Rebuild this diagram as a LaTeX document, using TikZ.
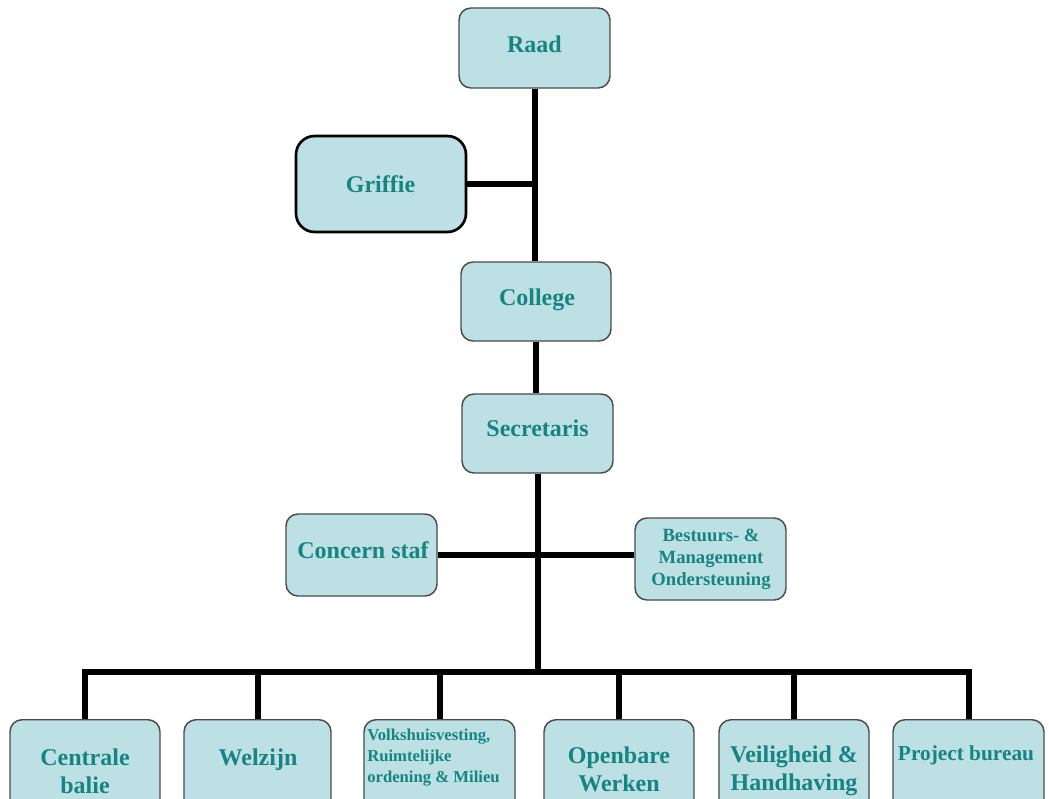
\documentclass[tikz,border=0pt]{standalone}
\usepackage{fontspec}
\setmainfont{Liberation Serif}
\definecolor{boxfill}{HTML}{BDE0E4}
\definecolor{boxline}{HTML}{4A4A4A}
\definecolor{txt}{HTML}{168481}
\begin{document}
\begin{tikzpicture}[x=0.75pt,y=-0.75pt,
  box/.style={draw=boxline, line width=1.1pt, fill=boxfill, rounded corners=9pt, inner sep=0pt},
  lbl/.style={text=txt, align=center, inner sep=0pt, anchor=base,
    font=\bfseries\fontsize{18}{20.5}\selectfont},
  conn/.style={draw=black, line width=4.5pt, line join=miter}]
\useasboundingbox (0,0) rectangle (1049,799);
\clip (0,0) rectangle (1049,799);

% upper chain
\node[box, minimum width=151*0.75pt, minimum height=80*0.75pt] (raad) at (534.5,48) {};
\node[box, draw=black, line width=2pt, rounded corners=14pt,
  minimum width=170*0.75pt, minimum height=96*0.75pt] (griffie) at (381,184) {};
\node[box, minimum width=150*0.75pt, minimum height=79*0.75pt] (college) at (536,301.5) {};
\node[box, minimum width=151*0.75pt, minimum height=79*0.75pt] (secr) at (537.5,433.5) {};

% staff level
\node[box, minimum width=151*0.75pt, minimum height=82*0.75pt] (staf) at (361.5,555) {};
\node[box, minimum width=151*0.75pt, minimum height=82*0.75pt] (bmo) at (710.5,559) {};

% departments (boxes run past the lower edge)
\foreach \n/\x/\w in {cb/85/150, wz/257.5/147, vh/439.5/151, ow/619/150, vh2/794/150, pb/968.5/151}
  \node[box, anchor=north, minimum width=\w*0.75pt, minimum height=110*0.75pt] (\n) at (\x,719) {};

% box texts, placed by the baseline of their last line
\node[lbl] (raadt) at (534.5,53) {Raad};
\node[lbl] (griffiet) at (380.5,192) {Griffie};
\node[lbl] (colleget) at (537,305) {College};
\node[lbl] (secrt) at (537.5,436) {Secretaris};
\node[lbl] (staft) at (363,558) {Concern staf};
\node[lbl, font=\bfseries\fontsize{14}{16.4}\selectfont] (bmot) at (711,585)
  {Bestuurs- \&\\Management\\Ondersteuning};
\node[lbl] (cbt) at (85,793) {Centrale\\balie};
\node[lbl] (wzt) at (258,765) {Welzijn};
\node[lbl, anchor=base west, align=left,
  font=\bfseries\fontsize{12.5}{15.6}\selectfont] (vht) at (367,782)
  {Volkshuisvesting,\\Ruimtelijke\\ordening \& Milieu};
\node[lbl] (owt) at (619,791) {Openbare\\Werken};
\node[lbl] (vh2t) at (794,790) {Veiligheid \&\\Handhaving};
\node[lbl, font=\bfseries\fontsize{16}{19}\selectfont] (pbt) at (966,760) {Project bureau};

% connectors
\coordinate (bus) at (537,672);
\draw[conn] (raad.south) -- (raad.south |- college.north);
\draw[conn] (griffie.east) -- (griffie.east -| raad.south);
\draw[conn] (college.south) -- (college.south |- secr.north);
\draw[conn] (secr.south) -- (secr.south |- bus);
\draw[conn] (staf.east) -- (staf.east -| bmo.west);
\draw[conn] (cb.north) -- (cb.north |- bus) -- (pb.north |- bus) -- (pb.north);
\foreach \n in {wz, vh, ow, vh2}
  \draw[conn] (\n.north) -- (\n.north |- bus);
\end{tikzpicture}
\end{document}
